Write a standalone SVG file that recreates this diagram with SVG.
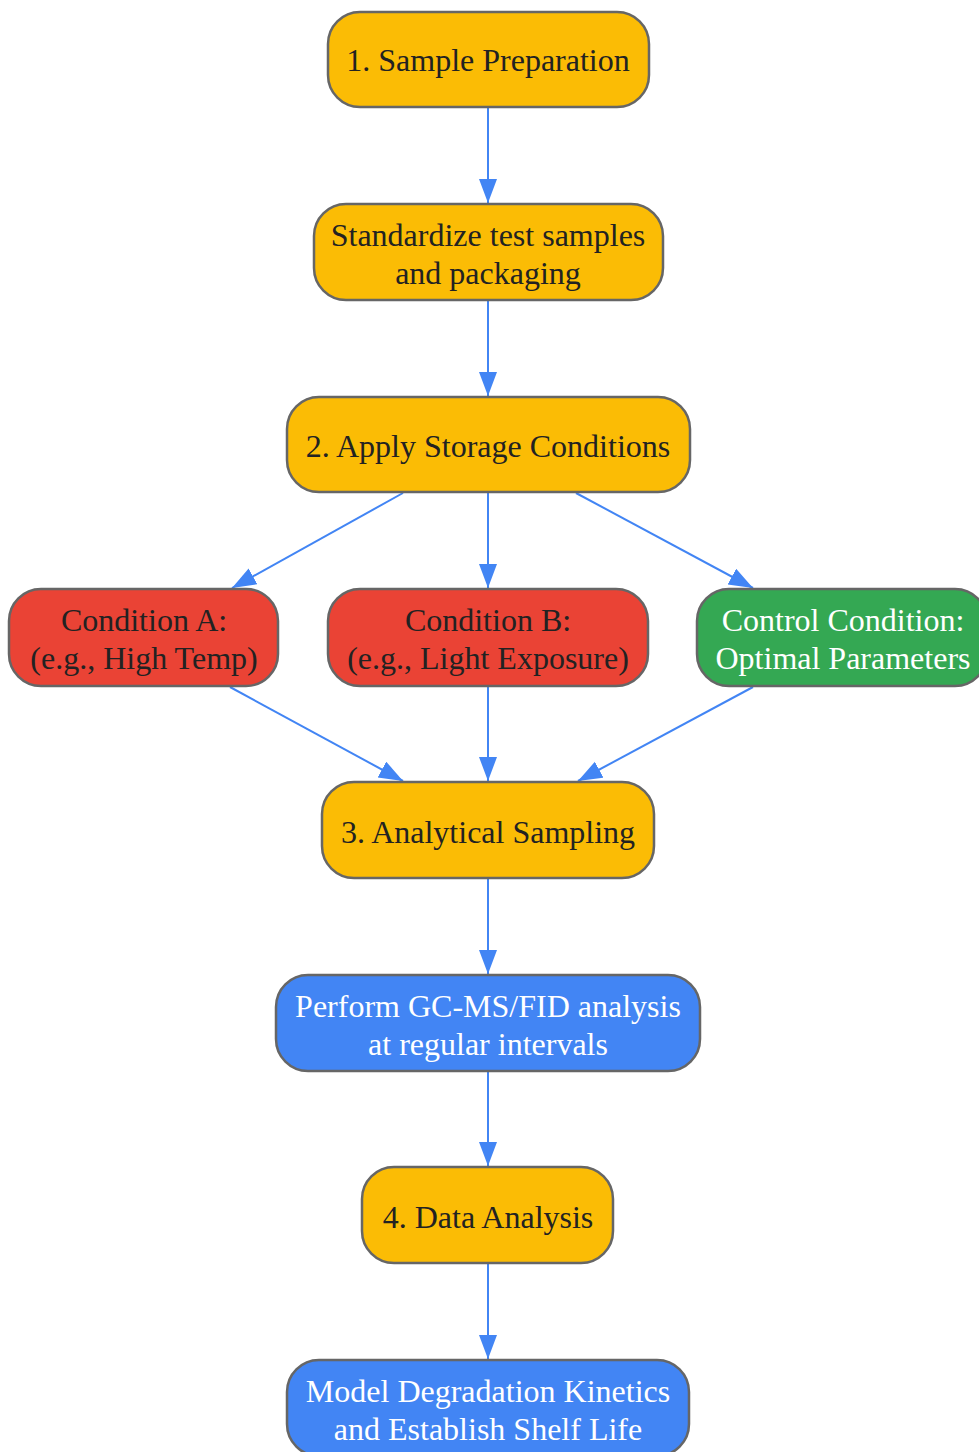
<svg xmlns="http://www.w3.org/2000/svg" width="979" height="1452" viewBox="0 0 979 1452">
<defs>
<marker id="arr" markerUnits="userSpaceOnUse" markerWidth="26" markerHeight="20" refX="24" refY="9" orient="auto">
<path d="M0,0 L24,9 L0,18 z" fill="#4285F4"/>
</marker>
<style>
.n rect{stroke:#666666;stroke-width:2.5}
.y rect{fill:#FBBC05}.r rect{fill:#EA4335}.g rect{fill:#34A853}.b rect{fill:#4285F4}
.y text,.r text{fill:#222222}.g text,.b text{fill:#FFFFFF}
.e line{stroke:#4285F4;stroke-width:2;marker-end:url(#arr)}
</style>
</defs>
<rect width="979" height="1452" fill="#FFFFFF"/>
<g id="edges" class="e">
<line x1="488" y1="107" x2="488" y2="203"/>
<line x1="488" y1="300" x2="488" y2="396"/>
<line x1="403" y1="493" x2="232" y2="588"/>
<line x1="488" y1="493" x2="488" y2="588"/>
<line x1="576" y1="493" x2="753" y2="588"/>
<line x1="230" y1="687" x2="403" y2="781"/>
<line x1="488" y1="687" x2="488" y2="781"/>
<line x1="753" y1="687" x2="578" y2="781"/>
<line x1="488" y1="878" x2="488" y2="974"/>
<line x1="488" y1="1071" x2="488" y2="1166"/>
<line x1="488" y1="1263" x2="488" y2="1359"/>
</g>
<g font-family="'Liberation Serif', 'Times New Roman', serif" font-size="32" text-anchor="middle">
<g id="n1" class="n y"><rect x="328" y="12" width="321" height="95" rx="32"/><text x="488" y="71">1. Sample Preparation</text></g>
<g id="n2" class="n y"><rect x="314" y="204" width="349" height="96" rx="32"/><text x="488" y="246">Standardize test samples</text><text x="488" y="284">and packaging</text></g>
<g id="n3" class="n y"><rect x="287" y="397" width="403" height="95" rx="32"/><text x="488" y="457">2. Apply Storage Conditions</text></g>
<g id="nA" class="n r"><rect x="9" y="589" width="269" height="97" rx="32"/><text x="144" y="631">Condition A:</text><text x="144" y="669">(e.g., High Temp)</text></g>
<g id="nB" class="n r"><rect x="328" y="589" width="320" height="97" rx="32"/><text x="488" y="631">Condition B:</text><text x="488" y="669">(e.g., Light Exposure)</text></g>
<g id="nC" class="n g"><rect x="697" y="589" width="290" height="97" rx="32"/><text x="843" y="631">Control Condition:</text><text x="843" y="669">Optimal Parameters</text></g>
<g id="n4" class="n y"><rect x="322" y="782" width="332" height="96" rx="32"/><text x="488" y="843">3. Analytical Sampling</text></g>
<g id="n5" class="n b"><rect x="276" y="975" width="424" height="96" rx="32"/><text x="488" y="1017">Perform GC-MS/FID analysis</text><text x="488" y="1055">at regular intervals</text></g>
<g id="n6" class="n y"><rect x="362" y="1167" width="251" height="96" rx="32"/><text x="488" y="1228">4. Data Analysis</text></g>
<g id="n7" class="n b"><rect x="287" y="1360" width="402" height="96" rx="32"/><text x="488" y="1402">Model Degradation Kinetics</text><text x="488" y="1440">and Establish Shelf Life</text></g>
</g>
</svg>
